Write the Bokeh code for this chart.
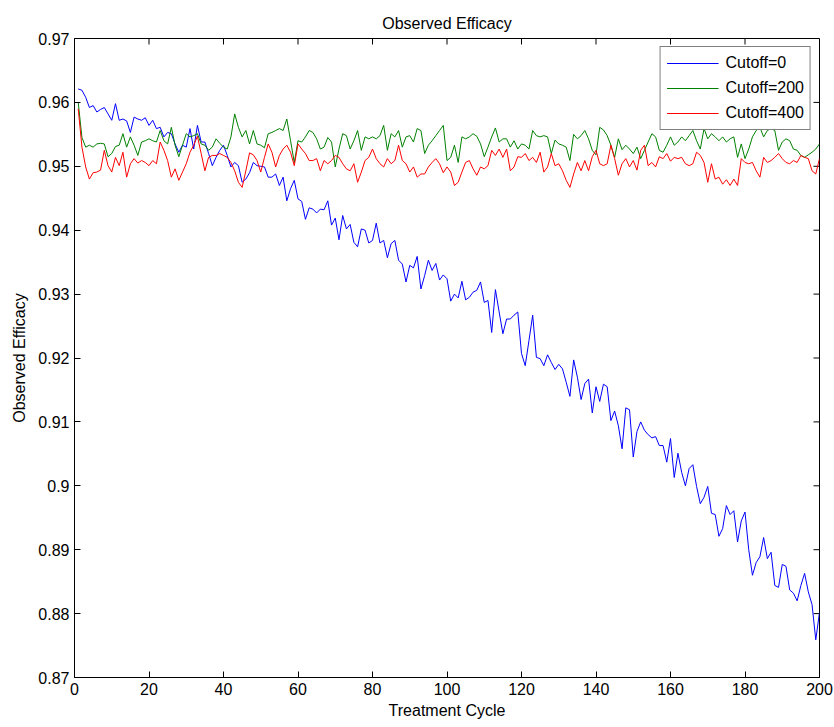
import math
from bokeh.plotting import figure
from bokeh.models import (Range1d, FixedTicker, Legend, LegendItem,
                          CustomJSTickFormatter)
from bokeh.embed import file_html
from bokeh.resources import INLINE

# ---- data -----------------------------------------------------------------
cycles = list(range(1, 201))

cutoff_0 = [
    0.9621, 0.9619, 0.9608, 0.9592, 0.9595, 0.9585, 0.9589, 0.9592, 0.9582, 0.9572,
    0.9598, 0.9572, 0.9574, 0.9571, 0.9553, 0.9577, 0.9574, 0.9572, 0.9576, 0.9564,
    0.9572, 0.9559, 0.9561, 0.9546, 0.9553, 0.9551, 0.9535, 0.9522, 0.9533, 0.9530,
    0.9559, 0.9527, 0.9564, 0.9538, 0.9538, 0.9520, 0.9501, 0.9514, 0.9525, 0.9533,
    0.9517, 0.9499, 0.9506, 0.9501, 0.9475, 0.9480, 0.9490, 0.9506, 0.9501, 0.9500,
    0.9499, 0.9483, 0.9483, 0.9488, 0.9470, 0.9483, 0.9446, 0.9465, 0.9478, 0.9449,
    0.9445, 0.9417, 0.9435, 0.9433, 0.9427, 0.9433, 0.9432, 0.9446, 0.9408, 0.9419,
    0.9385, 0.9423, 0.9402, 0.9409, 0.9381, 0.9374, 0.9402, 0.9400, 0.9380, 0.9384,
    0.9411, 0.9380, 0.9384, 0.9357, 0.9379, 0.9384, 0.9353, 0.9347, 0.9319, 0.9345,
    0.9341, 0.9359, 0.9308, 0.9329, 0.9353, 0.9337, 0.9348, 0.9322, 0.9330, 0.9324,
    0.9289, 0.9300, 0.9294, 0.9320, 0.9291, 0.9295, 0.9303, 0.9306, 0.9319, 0.9287,
    0.9290, 0.9240, 0.9307, 0.9272, 0.9238, 0.9261, 0.9261, 0.9267, 0.9272, 0.9207,
    0.9188, 0.9227, 0.9267, 0.9201, 0.9199, 0.9188, 0.9205, 0.9193, 0.9182, 0.9190,
    0.9183, 0.9162, 0.9140, 0.9197, 0.9170, 0.9135, 0.9160, 0.9167, 0.9114, 0.9155,
    0.9132, 0.9159, 0.9155, 0.9102, 0.9117, 0.9094, 0.9058, 0.9122, 0.9119, 0.9045,
    0.9085, 0.9100, 0.9087, 0.9080, 0.9075, 0.9077, 0.9063, 0.9063, 0.9037, 0.9074,
    0.9013, 0.9051, 0.9021, 0.9000, 0.9027, 0.9033, 0.8999, 0.8972, 0.8982, 0.8999,
    0.8957, 0.8955, 0.8921, 0.8933, 0.8969, 0.8955, 0.8961, 0.8912, 0.8945, 0.8959,
    0.8900, 0.8860, 0.8880, 0.8889, 0.8919, 0.8886, 0.8896, 0.8844, 0.8841, 0.8877,
    0.8874, 0.8837, 0.8832, 0.8820, 0.8844, 0.8863, 0.8834, 0.8814, 0.8759, 0.8802,
]

cutoff_200 = [
    0.9600, 0.9545, 0.9530, 0.9533, 0.9530, 0.9535, 0.9536, 0.9535, 0.9515, 0.9520,
    0.9531, 0.9533, 0.9551, 0.9530, 0.9546, 0.9533, 0.9517, 0.9538, 0.9540, 0.9543,
    0.9540, 0.9538, 0.9556, 0.9540, 0.9535, 0.9561, 0.9533, 0.9515, 0.9533, 0.9551,
    0.9546, 0.9548, 0.9551, 0.9535, 0.9533, 0.9525, 0.9530, 0.9543, 0.9536, 0.9530,
    0.9527, 0.9546, 0.9582, 0.9561, 0.9546, 0.9556, 0.9535, 0.9556, 0.9535, 0.9533,
    0.9529, 0.9551, 0.9553, 0.9556, 0.9559, 0.9556, 0.9574, 0.9540, 0.9506, 0.9540,
    0.9538, 0.9546, 0.9556, 0.9553, 0.9543, 0.9527, 0.9530, 0.9545, 0.9538, 0.9499,
    0.9527, 0.9551, 0.9548, 0.9527, 0.9540, 0.9556, 0.9525, 0.9546, 0.9543, 0.9546,
    0.9543, 0.9548, 0.9564, 0.9525, 0.9551, 0.9546, 0.9556, 0.9530, 0.9546, 0.9548,
    0.9538, 0.9559, 0.9556, 0.9520, 0.9533, 0.9540, 0.9548, 0.9556, 0.9564, 0.9509,
    0.9514, 0.9533, 0.9506, 0.9546, 0.9543, 0.9546, 0.9551, 0.9547, 0.9535, 0.9515,
    0.9530, 0.9546, 0.9560, 0.9538, 0.9543, 0.9543, 0.9530, 0.9540, 0.9527, 0.9535,
    0.9533, 0.9527, 0.9556, 0.9548, 0.9546, 0.9548, 0.9546, 0.9520, 0.9541, 0.9535,
    0.9533, 0.9530, 0.9509, 0.9550, 0.9543, 0.9548, 0.9556, 0.9543, 0.9525, 0.9518,
    0.9561, 0.9557, 0.9548, 0.9533, 0.9514, 0.9543, 0.9526, 0.9533, 0.9527, 0.9520,
    0.9530, 0.9512, 0.9525, 0.9538, 0.9551, 0.9546, 0.9525, 0.9522, 0.9533, 0.9546,
    0.9533, 0.9538, 0.9546, 0.9540, 0.9548, 0.9556, 0.9540, 0.9527, 0.9559, 0.9543,
    0.9551, 0.9546, 0.9540, 0.9546, 0.9538, 0.9543, 0.9546, 0.9514, 0.9535, 0.9512,
    0.9527, 0.9546, 0.9556, 0.9561, 0.9546, 0.9556, 0.9559, 0.9556, 0.9525, 0.9538,
    0.9543, 0.9540, 0.9527, 0.9525, 0.9517, 0.9514, 0.9518, 0.9522, 0.9527, 0.9535,
]

cutoff_400 = [
    0.9590, 0.9530, 0.9499, 0.9480, 0.9490, 0.9491, 0.9494, 0.9525, 0.9501, 0.9491,
    0.9514, 0.9501, 0.9522, 0.9483, 0.9504, 0.9512, 0.9505, 0.9509, 0.9506, 0.9501,
    0.9509, 0.9504, 0.9538, 0.9525, 0.9509, 0.9483, 0.9496, 0.9478, 0.9491, 0.9504,
    0.9522, 0.9533, 0.9547, 0.9520, 0.9493, 0.9514, 0.9517, 0.9517, 0.9520, 0.9517,
    0.9514, 0.9506, 0.9493, 0.9475, 0.9467, 0.9493, 0.9521, 0.9518, 0.9509, 0.9491,
    0.9514, 0.9535, 0.9522, 0.9499, 0.9517, 0.9527, 0.9533, 0.9522, 0.9501, 0.9535,
    0.9527, 0.9520, 0.9509, 0.9509, 0.9512, 0.9493, 0.9509, 0.9504, 0.9509, 0.9517,
    0.9514, 0.9504, 0.9496, 0.9493, 0.9504, 0.9475, 0.9491, 0.9509, 0.9514, 0.9527,
    0.9512, 0.9504, 0.9499, 0.9512, 0.9504, 0.9509, 0.9533, 0.9509, 0.9504, 0.9491,
    0.9499, 0.9483, 0.9488, 0.9488, 0.9499, 0.9506, 0.9512, 0.9504, 0.9490, 0.9499,
    0.9491, 0.9470, 0.9475, 0.9491, 0.9506, 0.9509, 0.9496, 0.9486, 0.9499, 0.9496,
    0.9501, 0.9525, 0.9517, 0.9527, 0.9514, 0.9527, 0.9493, 0.9499, 0.9515, 0.9514,
    0.9520, 0.9509, 0.9514, 0.9506, 0.9522, 0.9491, 0.9499, 0.9520, 0.9501, 0.9504,
    0.9493, 0.9478, 0.9467, 0.9488, 0.9506, 0.9493, 0.9509, 0.9493, 0.9515, 0.9525,
    0.9504, 0.9501, 0.9504, 0.9533, 0.9512, 0.9486, 0.9504, 0.9512, 0.9499, 0.9509,
    0.9494, 0.9525, 0.9533, 0.9501, 0.9506, 0.9499, 0.9515, 0.9512, 0.9520, 0.9508,
    0.9514, 0.9512, 0.9514, 0.9504, 0.9501, 0.9504, 0.9522, 0.9517, 0.9506, 0.9475,
    0.9504, 0.9480, 0.9483, 0.9472, 0.9479, 0.9470, 0.9480, 0.9470, 0.9512, 0.9506,
    0.9504, 0.9506, 0.9493, 0.9483, 0.9514, 0.9506, 0.9509, 0.9514, 0.9520, 0.9512,
    0.9506, 0.9504, 0.9509, 0.9506, 0.9517, 0.9514, 0.9512, 0.9493, 0.9488, 0.9512,
]

series_names = ["Cutoff=0", "Cutoff=200", "Cutoff=400"]
series_colors = ["#0000ff", "#008000", "#ff0000"]
x_ticks = [0, 20, 40, 60, 80, 100, 120, 140, 160, 180, 200]
y_ticks = [0.87, 0.88, 0.89, 0.90, 0.91, 0.92, 0.93, 0.94, 0.95, 0.96, 0.97]

# ---- figure ---------------------------------------------------------------
FONT = "Liberation Sans"
FS = "16px"
X_MIN, X_MAX = 0, 200
Y_MIN, Y_MAX = 0.87, 0.97
TICK_LEN = 6

p = figure(frame_width=745, frame_height=639,
           min_border_left=74, min_border_right=15,
           min_border_top=38, min_border_bottom=50,
           x_range=Range1d(X_MIN, X_MAX), y_range=Range1d(Y_MIN, Y_MAX),
           output_backend="svg", toolbar_location=None,
           title="Observed Efficacy")
p.background_fill_color = "white"
p.border_fill_color = "white"
p.outline_line_color = "black"
p.outline_line_width = 1
p.xgrid.visible = False
p.ygrid.visible = False

p.title.align = "center"
p.title.text_font = FONT
p.title.text_font_size = FS
p.title.text_font_style = "normal"
p.title.text_color = "black"
p.title.standoff = 14

fmt = CustomJSTickFormatter(code="return String(Math.round(tick*100)/100);")


def style_axis(ax, ticks):
    ax.ticker = FixedTicker(ticks=ticks)
    ax.major_tick_in = TICK_LEN
    ax.major_tick_out = 0
    ax.minor_tick_line_color = None
    ax.axis_line_color = "black"
    ax.major_tick_line_color = "black"
    ax.major_label_text_font = FONT
    ax.major_label_text_font_size = FS
    ax.major_label_text_color = "black"
    ax.axis_label_text_font = FONT
    ax.axis_label_text_font_size = FS
    ax.axis_label_text_font_style = "normal"
    ax.axis_label_text_color = "black"


style_axis(p.xaxis[0], x_ticks)
p.xaxis[0].axis_label = "Treatment Cycle"
p.xaxis[0].major_label_standoff = 5
p.xaxis[0].axis_label_standoff = 4

style_axis(p.yaxis[0], y_ticks)
p.yaxis[0].formatter = fmt
p.yaxis[0].axis_label = "Observed Efficacy"
p.yaxis[0].major_label_standoff = 5
p.yaxis[0].axis_label_standoff = 7

# inward ticks on the top and right edges of the box (screen-length rays)
p.ray(x=x_ticks, y=[Y_MAX] * len(x_ticks), length=TICK_LEN,
      length_units="screen", angle=-math.pi / 2, line_color="black", line_width=1)
p.ray(x=[X_MAX] * len(y_ticks), y=y_ticks, length=TICK_LEN,
      length_units="screen", angle=math.pi, line_color="black", line_width=1)

renderers = []
for name, col, vals in zip(series_names, series_colors,
                           [cutoff_0, cutoff_200, cutoff_400]):
    r = p.line(cycles, vals, line_color=col, line_width=1)
    renderers.append(r)

legend = Legend(items=[LegendItem(label=n, renderers=[r])
                       for n, r in zip(series_names, renderers)],
                location="top_right")
legend.margin = 8
legend.padding = 6
legend.spacing = 5
legend.glyph_width = 52
legend.glyph_height = 20
legend.label_standoff = 7
legend.label_text_font = FONT
legend.label_text_font_size = FS
legend.label_text_color = "black"
legend.border_line_color = "black"
legend.border_line_width = 1
legend.background_fill_color = "white"
legend.background_fill_alpha = 1.0
p.add_layout(legend, "center")

open("out.html", "w").write(file_html(p, INLINE))
